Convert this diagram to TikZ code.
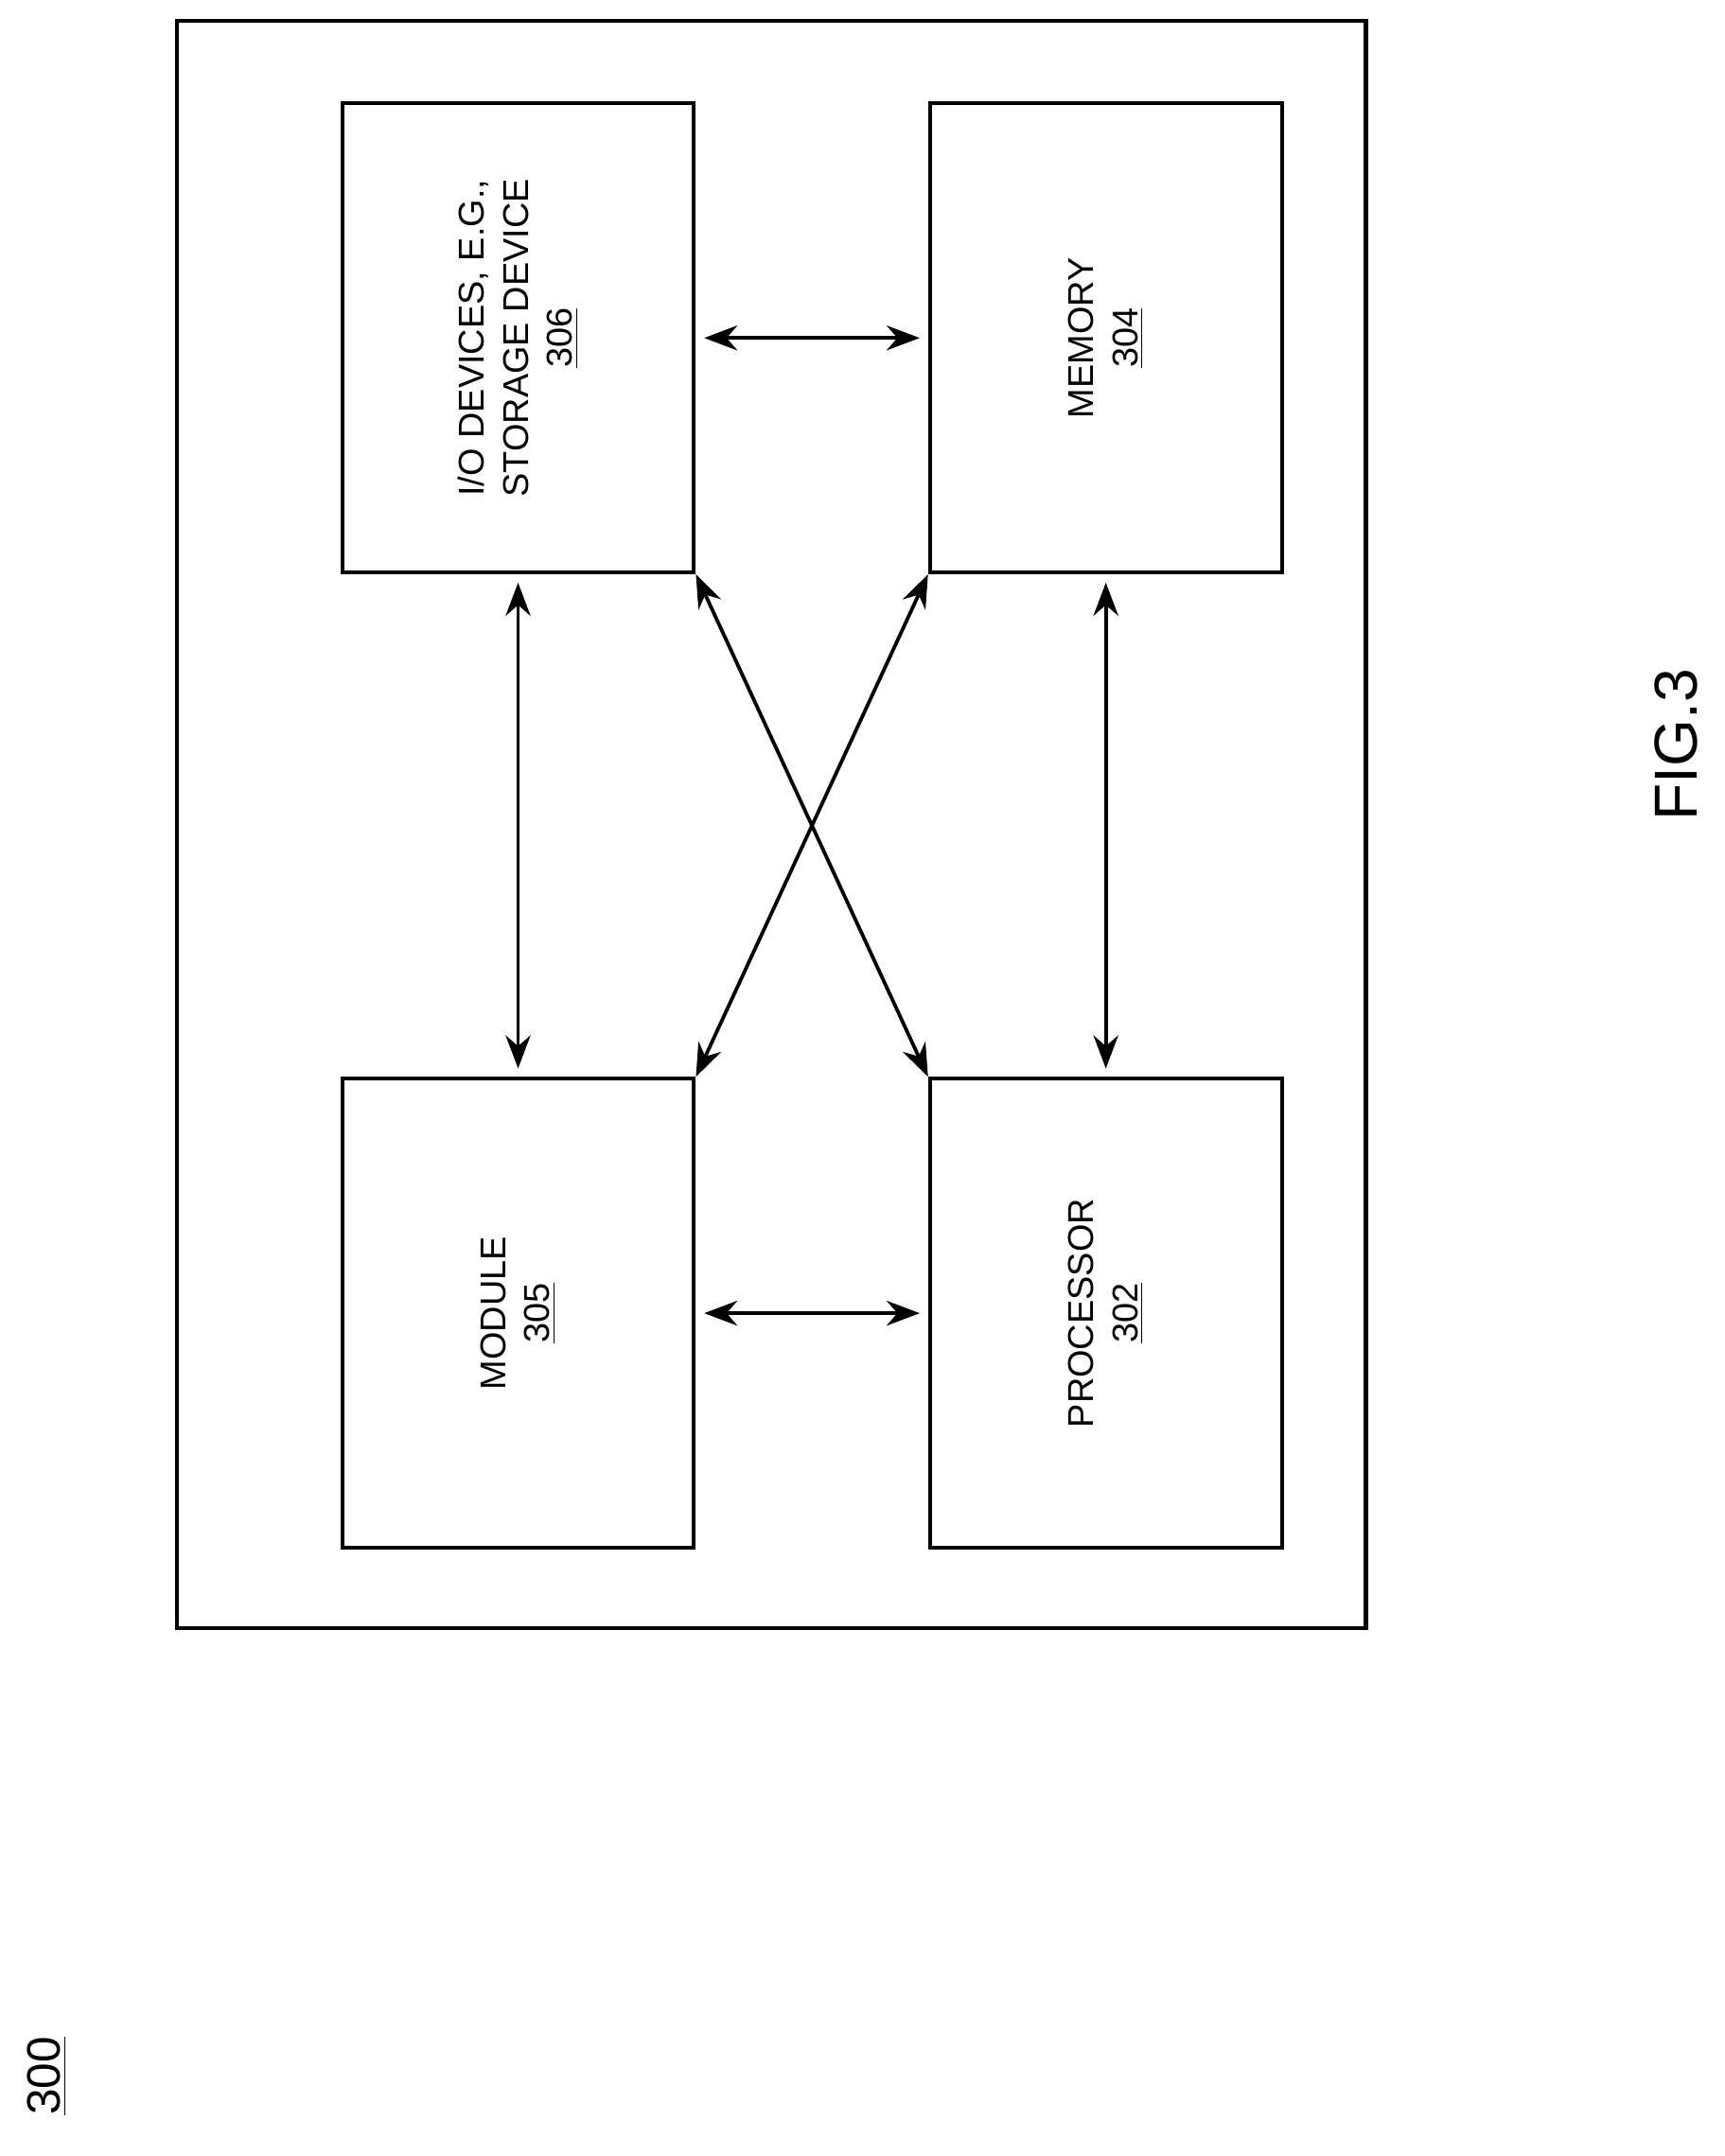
\documentclass[tikz,border=0pt]{standalone}
\usepackage{fontspec}
\setmainfont{Liberation Sans}
\usetikzlibrary{arrows.meta}
\begin{document}
\begin{tikzpicture}[x=0.5pt,y=-0.5pt,
  blk/.style={draw,line width=1.4pt,minimum width=127.5pt,minimum height=170pt,inner sep=0pt},
  lbl/.style={rotate=90,align=center,font=\fontsize{13}{16}\selectfont},
  link/.style={line width=1.3pt,{Stealth[length=12pt,width=9pt]}-{Stealth[length=12pt,width=9pt]}}]
\useasboundingbox (0,0) rectangle (1250,1563);
% frame
\draw[line width=1.4pt] (128,15) rectangle (990,1180);
% blocks
\node[blk] (io) at (375.5,245) {};
\node[blk] (mem) at (801.5,245) {};
\node[blk] (mod) at (375.5,952) {};
\node[blk] (proc) at (801.5,952) {};
\node[lbl] (iot) at (io) {I/O DEVICES, E.G.,\\STORAGE DEVICE\\\underline{306}};
\node[lbl] (memt) at (mem) {MEMORY\\\underline{304}};
\node[lbl] (modt) at (mod) {MODULE\\\underline{305}};
\node[lbl] (proct) at (proc) {PROCESSOR\\\underline{302}};
% connectors
\draw[link] ([xshift=3pt]io.east) -- ([xshift=-3pt]mem.west);
\draw[link] ([xshift=3pt]mod.east) -- ([xshift=-3pt]proc.west);
\draw[link] ([yshift=-3pt]io.south) -- ([yshift=3pt]mod.north);
\draw[link] ([yshift=-3pt]mem.south) -- ([yshift=3pt]proc.north);
\draw[link] (io.south east) -- (proc.north west);
\draw[link] (mem.south west) -- (mod.north east);
% captions
\node[rotate=90,font=\fontsize{22}{26}\selectfont] (fig) at (1215,540) {FIG.3};
\node[rotate=90,font=\fontsize{17}{20}\selectfont] (num) at (34,1505) {\underline{300}};
\end{tikzpicture}
\end{document}
